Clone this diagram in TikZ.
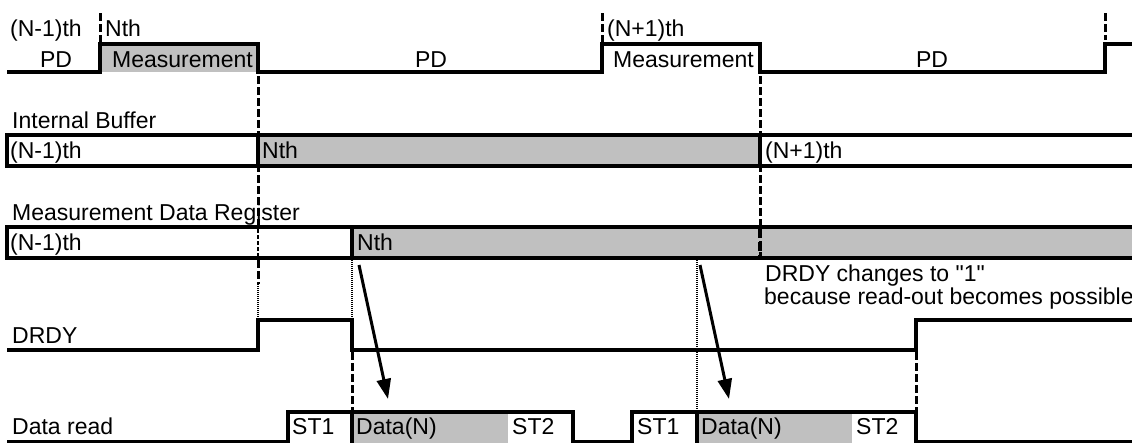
\documentclass[tikz,border=0pt]{standalone}
\usepackage{fontspec}
\setmainfont{Liberation Sans}[Ligatures=TeXOff]
\usetikzlibrary{arrows.meta}
\definecolor{fillgray}{RGB}{192,192,192}
\begin{document}
\begin{tikzpicture}[x=1pt,y=-1pt,
  wave/.style={line width=4.5pt, line join=miter, line cap=butt},
  box/.style={line width=4.5pt},
  lbl/.style={anchor=base west, inner sep=0pt, font=\fontsize{23}{26}\selectfont},
  clbl/.style={anchor=base, inner sep=0pt, font=\fontsize{23}{26}\selectfont},
  vdash/.style={line width=3pt, dash pattern=on 8pt off 3pt},
  vdashthin/.style={line width=1.5pt, dash pattern=on 4pt off 2pt},
  vdot/.style={line width=2pt, dash pattern=on 1pt off 1pt},
  arr/.style={line width=3pt, -{Triangle[length=20pt,width=14pt]}}
]
\useasboundingbox (0,0) rectangle (1132,442);
\clip (0,0) rectangle (1132,442);

% ---------- fills ----------
\fill[fillgray] (100,44) rectangle (258,72);
\fill[fillgray] (258,135) rectangle (760,166);
\fill[fillgray] (352,227) rectangle (1145,258);
\fill[fillgray] (352,412) rectangle (508,446);
\fill[fillgray] (697,412) rectangle (852,446);

% ---------- vertical guide lines ----------
\draw[vdash] (100,13) -- (100,42);
\draw[vdash] (602,13) -- (602,42);
\draw[vdash] (1105,13) -- (1105,40);
\draw[vdash] (258,76) -- (258,227);
\draw[vdashthin] (258,229) -- (258,256);
\draw[vdash] (258,260) -- (258,284);
\draw[vdot] (258,284) -- (258,320);
\draw[vdash] (760,76) -- (760,258);
\draw[vdot] (352,260) -- (352,320);
\draw[vdash] (352,352) -- (352,412);
\draw[vdot] (697,260) -- (697,412);
\draw[vdash] (916,352) -- (916,412);

% ---------- measurement row ----------
\draw[wave] (7,72) -- (100,72) -- (100,44) -- (258,44) -- (258,72) -- (602,72)
  -- (602,44) -- (760,44) -- (760,72) -- (1105,72) -- (1105,44) -- (1145,44);
\node[lbl] (tnm1) at (10,36) {(N-1)th};
\node[clbl] (tpd1) at (56,67) {PD};
\node[lbl] (tn) at (105,36) {Nth};
\node[lbl] (tm1) at (112,67) {Measurement};
\node[clbl] (tpd2) at (431,67) {PD};
\node[lbl] (tnp1) at (607,36) {(N+1)th};
\node[lbl] (tm2) at (613,67) {Measurement};
\node[clbl] (tpd3) at (932,67) {PD};

% ---------- internal buffer ----------
\node[lbl] (ibl) at (12,128) {Internal Buffer};
\draw[box] (7,135) rectangle (1150,166);
\draw[box] (258,135) -- (258,166);
\draw[box] (760,135) -- (760,166);
\node[lbl] (ib1) at (10,158) {(N-1)th};
\node[lbl] (ib2) at (262,158) {Nth};
\node[lbl] (ib3) at (765,158) {(N+1)th};

% ---------- measurement data register ----------
\node[lbl] (mdl) at (12,220) {Measurement Data Register};
\draw[box] (7,227) rectangle (1150,258);
\draw[box] (352,227) -- (352,258);
\draw[line width=4pt, dash pattern=on 9pt off 4pt] (760,229) -- (760,256);
\node[lbl] (md1) at (10,250) {(N-1)th};
\node[lbl] (md2) at (357,250) {Nth};

% ---------- note ----------
\node[lbl] (note1) at (765,281) {DRDY changes to "1"};
\node[lbl] (note2) at (764,304) {because read-out becomes possible};

% ---------- DRDY ----------
\node[lbl] (drl) at (12,343) {DRDY};
\draw[wave] (7,350) -- (258,350) -- (258,320) -- (352,320) -- (352,350)
  -- (916,350) -- (916,320) -- (1145,320);

% ---------- data read ----------
\node[lbl] (dral) at (12,434) {Data read};
\draw[wave] (7,442.5) -- (288,442.5) -- (288,412) -- (573,412) -- (573,442.5)
  -- (632,442.5) -- (632,412) -- (916,412) -- (916,442.5) -- (1145,442.5);
\draw[box] (352,412) -- (352,446);
\draw[box] (697,412) -- (697,446);
\node[lbl] (st1a) at (292,434) {ST1};
\node[lbl] (dna) at (356,434) {Data(N)};
\node[lbl] (st2a) at (512,434) {ST2};
\node[lbl] (st1b) at (637,434) {ST1};
\node[lbl] (dnb) at (701,434) {Data(N)};
\node[lbl] (st2b) at (856,434) {ST2};

% ---------- arrows ----------
\coordinate (a1s) at (359,265);
\coordinate (a1e) at (388,399);
\coordinate (a2s) at (700,265);
\coordinate (a2e) at (729,399);
\draw[arr] (a1s) -- (a1e);
\draw[arr] (a2s) -- (a2e);
\end{tikzpicture}
\end{document}
